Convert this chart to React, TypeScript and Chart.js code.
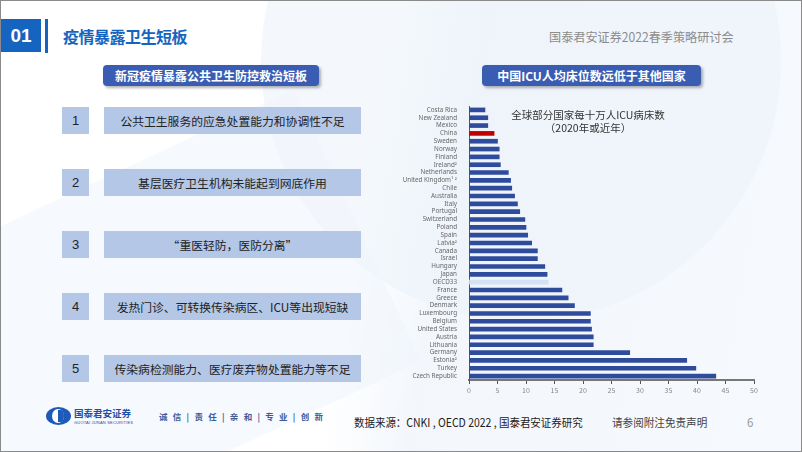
import React, { useEffect, useRef } from "react";
import { Chart, registerables } from "chart.js";

Chart.register(...registerables);

const countries = [
  "Costa Rica", "New Zealand", "Mexico", "China", "Sweden", "Norway", "Finland", "Ireland²",
  "Netherlands", "United Kingdom¹ ²", "Chile", "Australia", "Italy", "Portugal", "Switzerland",
  "Poland", "Spain", "Latvia²", "Canada", "Israel", "Hungary", "Japan", "OECD33", "France",
  "Greece", "Denmark", "Luxembourg", "Belgium", "United States", "Austria", "Lithuania",
  "Germany", "Estonia²", "Turkey", "Czech Republic",
];

const icuBeds = [
  2.8, 3.3, 3.3, 4.4, 5.0, 5.3, 5.3, 5.5,
  6.9, 7.3, 7.5, 8.0, 8.5, 8.9, 9.8,
  10.0, 10.3, 11.0, 12.0, 12.0, 13.3, 13.7, 13.9, 16.3,
  17.4, 18.5, 21.3, 21.3, 21.5, 21.8, 21.8,
  28.2, 38.2, 39.8, 43.3,
];

const xTicks = [0, 5, 10, 15, 20, 25, 30, 35, 40, 45, 50];

const points = [
  "公共卫生服务的应急处置能力和协调性不足",
  "基层医疗卫生机构未能起到网底作用",
  "“重医轻防，医防分离”",
  "发热门诊、可转换传染病区、ICU等出现短缺",
  "传染病检测能力、医疗废弃物处置能力等不足",
];

const CJK = '"Noto Sans CJK SC", "Noto Sans", sans-serif';

function barColor(name: string) {
  if (name === "China") return "#c00000";
  if (name === "OECD33") return "#d3e2f5";
  return "#2f4b9b";
}

function IcuChart() {
  const ref = useRef<HTMLCanvasElement | null>(null);
  useEffect(() => {
    if (!ref.current) return;
    const chart = new Chart(ref.current, {
      type: "bar",
      data: {
        labels: countries,
        datasets: [
          {
            data: icuBeds,
            backgroundColor: countries.map(barColor),
            barThickness: 4,
            borderWidth: 0,
          },
        ],
      },
      options: {
        indexAxis: "y",
        animation: false,
        responsive: false,
        maintainAspectRatio: false,
        layout: { padding: { top: 10, right: 17, left: 0, bottom: 0 } },
        plugins: { legend: { display: false }, tooltip: { enabled: false } },
        scales: {
          x: {
            min: 0,
            max: 50,
            afterBuildTicks: (s: any) => {
              s.ticks = xTicks.map((v) => ({ value: v }));
            },
            afterFit: (s: any) => {
              s.height = 21;
            },
            grid: { drawOnChartArea: false, drawTicks: true, tickLength: 4, color: "#555" },
            border: { display: true, color: "#777", width: 2 },
            ticks: { font: { size: 7, family: CJK }, color: "#888", padding: 2, maxRotation: 0 },
          },
          y: {
            afterFit: (s: any) => {
              s.width = 68;
            },
            grid: { display: false },
            border: { display: true, color: "#555", width: 1 },
            ticks: { font: { size: 6.3, family: '"Noto Sans", sans-serif' }, color: "#666", padding: 4, autoSkip: false },
          },
        },
      },
    });
    return () => chart.destroy();
  }, []);
  return (
    <canvas
      ref={ref}
      width={370}
      height={305}
      style={{ position: "absolute", left: 400, top: 95, width: 370, height: 305 }}
    />
  );
}

export default function App() {
  const abs = (s: React.CSSProperties): React.CSSProperties => ({ position: "absolute", whiteSpace: "nowrap", ...s });
  return (
    <div
      style={{
        position: "fixed",
        left: 0,
        top: 0,
        width: 802,
        height: 452,
        overflow: "hidden",
        boxSizing: "border-box",
        border: "1px solid #8a8a8a",
        background: "linear-gradient(100deg, #ffffff 0%, #ffffff 45%, #f3f7fc 55%, #f6f9fd 100%)",
        fontFamily: CJK,
      }}
    >
      {/* decorative background shapes */}
      <div style={abs({ left: 260, top: -200, width: 520, height: 520, borderRadius: "50%", background: "rgba(235,242,250,0.55)" })} />
      <div style={abs({ left: -120, top: 180, width: 500, height: 300, transform: "rotate(-25deg)", background: "rgba(240,245,251,0.6)" })} />

      {/* header */}
      <div style={abs({ left: 0, top: 18, width: 40, height: 33, background: "#1565c0", color: "#fff", fontWeight: 700, fontSize: 19, lineHeight: "33px", textAlign: "center", fontFamily: '"Liberation Sans", Arial, sans-serif' })}>01</div>
      <div style={abs({ left: 44, top: 18, width: 3, height: 34, background: "#1565c0" })} />
      <div style={abs({ left: 62, top: 24, fontSize: 16, fontWeight: 700, color: "#1565c0", lineHeight: "22px", letterSpacing: -0.5 })}>疫情暴露卫生短板</div>
      <div style={abs({ left: 548, top: 27, fontSize: 12.5, color: "#8c8c8c", lineHeight: "18px", transformOrigin: "0 50%", transform: "scaleX(0.97)" })}>国泰君安证券2022春季策略研讨会</div>

      {/* left panel */}
      <div style={abs({ left: 102, top: 64, width: 216, height: 21, background: "#3a5db3", borderRadius: 4, boxShadow: "2px 2px 3px rgba(0,0,0,0.3)", color: "#fff", fontWeight: 700, fontSize: 12, lineHeight: "21px", textAlign: "center" })}>新冠疫情暴露公共卫生防控救治短板</div>
      {points.map((p, i) => (
        <React.Fragment key={i}>
          <div style={abs({ left: 61, top: 106 + i * 62, width: 27, height: 27, background: "#b4c7e7", color: "#222", fontSize: 13, lineHeight: "27px", textAlign: "center", fontFamily: '"Liberation Sans", Arial, sans-serif' })}>{i + 1}</div>
          <div style={abs({ left: 103, top: 106 + i * 62, width: 257, height: 27, background: "#b4c7e7", color: "#222", fontSize: 11.8, lineHeight: "27px", textAlign: "center" })}>{p}</div>
        </React.Fragment>
      ))}

      {/* right panel */}
      <div style={abs({ left: 481, top: 64, width: 219, height: 21, background: "#3a5db3", borderRadius: 4, boxShadow: "2px 2px 3px rgba(0,0,0,0.3)", color: "#fff", fontWeight: 700, fontSize: 12, lineHeight: "21px", textAlign: "center" })}>中国ICU人均床位数远低于其他国家</div>
      <IcuChart />
      <div style={abs({ left: 497, top: 107, width: 180, fontSize: 10.5, color: "#333", lineHeight: "13px", textAlign: "center" })}>
        全球部分国家每十万人ICU病床数
        <br />（2020年或近年）
      </div>

      {/* footer */}
      <div style={abs({ left: 45, top: 406, width: 25, height: 18, borderRadius: "50%", background: "#1e5bb8" })} />
      <div style={abs({ left: 51, top: 408, width: 12, height: 14, borderRadius: "50%", background: "#fff" })} />
      <div style={abs({ left: 57, top: 409, width: 6, height: 12, borderRadius: "0 50% 50% 0 / 0 50% 50% 0", background: "#1e5bb8" })} />
      <div style={abs({ left: 73, top: 406, fontSize: 9.5, fontWeight: 700, color: "#1e4fa3", lineHeight: "12px" })}>国泰君安证券</div>
      <div style={abs({ left: 73, top: 419, fontSize: 4, color: "#1e4fa3", lineHeight: "5px", letterSpacing: 0.2, fontFamily: '"Liberation Sans", sans-serif' })}>GUOTAI JUNAN SECURITIES</div>
      <div style={abs({ left: 158, top: 408, fontSize: 8.5, fontWeight: 700, color: "#3d5a9a", lineHeight: "14px", letterSpacing: 5.3 })}>诚信|责任|亲和|专业|创新</div>
      <div style={abs({ left: 353, top: 413, fontSize: 11.5, color: "#222", lineHeight: "16px", transformOrigin: "0 50%", transform: "scaleX(0.91)" })}>数据来源：CNKI , OECD 2022 , 国泰君安证券研究</div>
      <div style={abs({ left: 611, top: 413, fontSize: 11.5, color: "#444", lineHeight: "16px", transformOrigin: "0 50%", transform: "scaleX(0.92)" })}>请参阅附注免责声明</div>
      <div style={abs({ left: 746, top: 413, fontSize: 11.5, color: "#999", lineHeight: "16px" })}>6</div>
    </div>
  );
}
